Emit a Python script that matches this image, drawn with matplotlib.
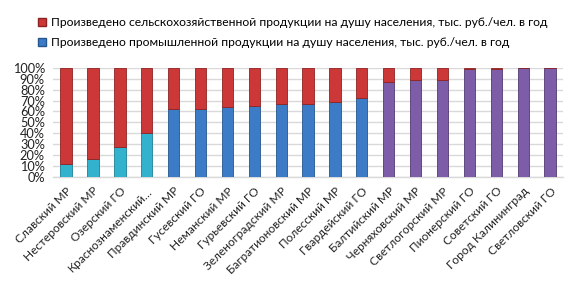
import matplotlib
matplotlib.use("Agg")
import matplotlib.pyplot as plt
from matplotlib.patches import Patch
from matplotlib.ticker import PercentFormatter

plt.rcParams['font.family'] = ['Lato', 'DejaVu Sans']

districts = [
    "Славский МР", "Нестеровский МР", "Озерский ГО", "Краснознаменский…",
    "Правдинский МР", "Гусевский ГО", "Неманский МР", "Гурьевский ГО",
    "Зеленоградский МР", "Багратионовский МР", "Полесский МР", "Гвардейский ГО",
    "Балтийский МР", "Черняховский МР", "Светлогорский МР", "Пионерский ГО",
    "Советский ГО", "Город Калининград", "Светловский ГО",
]
# share of industrial output, %
industry = [11.8, 16.4, 27.0, 40.4, 62.0, 62.6, 64.5, 65.0, 66.4, 66.7,
            68.8, 72.8, 87.3, 88.9, 88.5, 98.5, 99.3, 99.5, 99.7]
# share of agricultural output, %
agriculture = [100 - v for v in industry]
# colour group of the lower segment
group = [0] * 4 + [1] * 8 + [2] * 7

group_colors = ['#33B2CE', '#3C7CC6', '#7D5CA8']
group_edges = ['#1E7F96', '#25568F', '#513A73']
red = '#CC3838'
red_edge = '#8E2222'

label_agr = "Произведено сельскохозяйственной продукции на душу населения, тыс. руб./чел. в год"
label_ind = "Произведено промышленной продукции на душу населения, тыс. руб./чел. в год"

fig = plt.figure(figsize=(5.78, 2.9), dpi=100)
ax = fig.add_axes([0.092, 0.39, 0.882, 0.376])

x = list(range(len(districts)))
ax.bar(x, industry, width=0.42,
       color=[group_colors[g] for g in group],
       edgecolor=[group_edges[g] for g in group], linewidth=0.6, zorder=3)
ax.bar(x, agriculture, width=0.42, bottom=industry,
       color=red, edgecolor=red_edge, linewidth=0.6, zorder=3)

ax.set_ylim(0, 100)
ax.set_xlim(-0.48, len(districts) - 0.52)
ax.set_yticks(range(0, 101, 10))
ax.yaxis.set_major_formatter(PercentFormatter(decimals=0))
ax.grid(axis='y', color='#D9D9D9', linewidth=1.0, zorder=0)
for s in ['top', 'right', 'left']:
    ax.spines[s].set_visible(False)
ax.spines['bottom'].set_color('#D9D9D9')
ax.spines['bottom'].set_linewidth(1.0)
ax.tick_params(axis='y', length=0, labelsize=9.2, colors='#222222', pad=6)
ax.tick_params(axis='x', length=0, colors='#222222', pad=6)
ax.set_xticks(x)
ax.set_xticklabels(districts, rotation=45, ha='right', rotation_mode='anchor',
                   fontsize=8.6)

handles = [Patch(facecolor=red, edgecolor=red_edge, label=label_agr),
           Patch(facecolor='#3C7CC6', edgecolor='#25568F', label=label_ind)]
fig.legend(handles=handles, loc='upper left', bbox_to_anchor=(0.057, 0.958),
           frameon=False, fontsize=8.7, handlelength=0.7, handleheight=0.7,
           handletextpad=0.4, labelspacing=0.75, borderaxespad=0)

fig.savefig("out.png", dpi=100)
